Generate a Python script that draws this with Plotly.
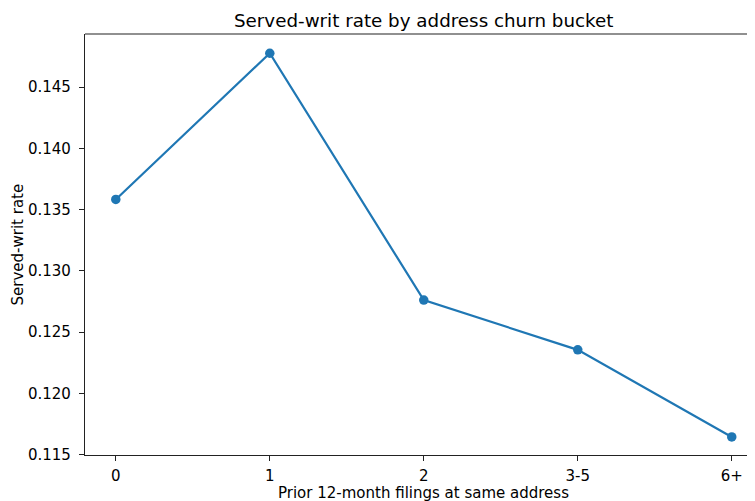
import plotly.graph_objects as go

categories = ["0", "1", "2", "3-5", "6+"]
served_rate = [0.13583, 0.14776, 0.12762, 0.12356, 0.11645]
y_ticks = [0.115, 0.120, 0.125, 0.130, 0.135, 0.140, 0.145]
y_tick_text = ["0.115", "0.120", "0.125", "0.130", "0.135", "0.140", "0.145"]

xpos = list(range(len(categories)))
font = "DejaVu Sans"

fig = go.Figure()
fig.add_trace(go.Scatter(
    x=xpos, y=served_rate, mode="lines+markers",
    line=dict(color="#1f77b4", width=2.2),
    marker=dict(color="#1f77b4", size=9.5),
    hoverinfo="skip", showlegend=False,
))

# page body has an 8px default margin: figure sized to fill the rest of the window
fig.update_layout(
    width=747, height=493,
    margin=dict(l=77, r=0, t=26, b=46, autoexpand=False),
    paper_bgcolor="white", plot_bgcolor="white",
    font=dict(family=font, size=15, color="black"),
    xaxis=dict(
        range=[-0.2, 4.151], tickvals=xpos, ticktext=categories, automargin=False,
        showgrid=False, zeroline=False, showline=True, linecolor="#222", linewidth=1.2,
        ticks="outside", ticklen=5, tickwidth=1.1, tickcolor="#222", ticklabelstandoff=2,
        tickfont=dict(family=font, size=15, color="black"),
    ),
    yaxis=dict(
        range=[0.11498, 0.14933], tickvals=y_ticks, ticktext=y_tick_text, automargin=False,
        showgrid=False, zeroline=False, showline=True, linecolor="#222", linewidth=1.2,
        ticks="outside", ticklen=5, tickwidth=1.1, tickcolor="#222", ticklabelstandoff=5,
        tickfont=dict(family=font, size=15, color="black"),
    ),
    shapes=[dict(type="line", xref="paper", yref="paper", x0=0, x1=1, y0=1, y1=1,
                 line=dict(color="#222", width=1.2))],
    annotations=[
        dict(text="Served-writ rate by address churn bucket", xref="paper", yref="paper",
             x=0.505, y=1, yshift=14, xanchor="center", yanchor="middle", showarrow=False,
             font=dict(family=font, size=18.3, color="black")),
        dict(text="Prior 12-month filings at same address", xref="paper", yref="paper",
             x=0.505, y=0, yshift=-37.5, xanchor="center", yanchor="middle", showarrow=False,
             font=dict(family=font, size=15, color="black")),
        dict(text="Served-writ rate", xref="paper", yref="paper",
             x=0, xshift=-68, y=0.5, xanchor="center", yanchor="middle", showarrow=False,
             textangle=-90, font=dict(family=font, size=15, color="black")),
    ],
)

fig.write_html("out.html")
